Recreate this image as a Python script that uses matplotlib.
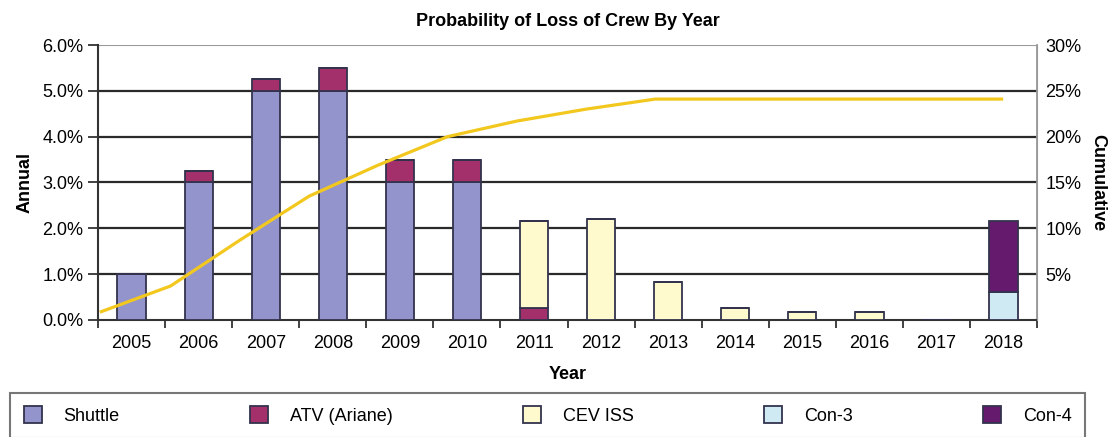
import numpy as np
import matplotlib
matplotlib.use("Agg")
import matplotlib.pyplot as plt
from matplotlib.ticker import FuncFormatter

plt.rcParams['font.family'] = ['Liberation Sans', 'DejaVu Sans']

years = ['2005', '2006', '2007', '2008', '2009', '2010', '2011',
         '2012', '2013', '2014', '2015', '2016', '2017', '2018']
# annual probability, percent
shuttle = [1.0, 3.0, 5.0, 5.0, 3.0, 3.0, 0, 0, 0, 0, 0, 0, 0, 0]
atv = [0, 0.25, 0.25, 0.5, 0.5, 0.5, 0.25, 0, 0, 0, 0, 0, 0, 0]
cev_iss = [0, 0, 0, 0, 0, 0, 1.9, 2.2, 0.82, 0.25, 0.17, 0.17, 0, 0]
con3 = [0, 0, 0, 0, 0, 0, 0, 0, 0, 0, 0, 0, 0, 0.6]
con4 = [0, 0, 0, 0, 0, 0, 0, 0, 0, 0, 0, 0, 0, 1.55]
# cumulative probability, percent
cumulative = [0.9, 3.7, 8.7, 13.5, 16.9, 20.0, 21.7, 23.0, 24.1,
              24.1, 24.1, 24.1, 24.1, 24.1]

series = [('Shuttle', shuttle, '#9494cc'),
          ('ATV (Ariane)', atv, '#a3306a'),
          ('CEV ISS', cev_iss, '#fffacd'),
          ('Con-3', con3, '#cfeaf2'),
          ('Con-4', con4, '#661a6e')]

fig = plt.figure(figsize=(11.2, 4.37), dpi=100)
ax = fig.add_axes([0.0875, 0.268, 0.8385, 0.629])

x = np.arange(len(years))
bottom = np.zeros(len(years))
for name, vals, col in series:
    vals = np.array(vals)
    ax.bar(x, vals, 0.42, bottom=bottom, color=col, edgecolor='#33334d',
           linewidth=1.3, label=name, zorder=3)
    bottom += vals

ax.set_xlim(-0.5, len(years) - 0.5)
ax.set_ylim(0, 6)
ax.set_yticks(np.arange(0, 7, 1))
ax.yaxis.set_major_formatter(FuncFormatter(lambda v, p: '%.1f%%' % v))
ax.set_xticks(x)
ax.set_xticklabels(years)
ax.set_xticks(np.arange(-0.5, len(years)), minor=True)
ax.tick_params(axis='x', which='major', length=0, labelsize=13, pad=11)
ax.tick_params(axis='x', which='minor', length=6, width=1.3, color='#333333', direction='out')
ax.tick_params(axis='y', length=7, width=1.3, color='#333333', labelsize=13)
for v in range(1, 6):
    ax.axhline(v, color='#2a2a2a', linewidth=1.6, zorder=1)
ax.axhline(6, color='#999999', linewidth=1.5, zorder=1)
ax.spines['top'].set_visible(False)
ax.spines['left'].set_color('#333333')
ax.spines['left'].set_linewidth(1.5)
ax.spines['bottom'].set_color('#333333')
ax.spines['bottom'].set_linewidth(1.5)
ax.spines['right'].set_color('#999999')
ax.spines['right'].set_linewidth(1.3)

ax.set_ylabel('Annual', fontsize=13, fontweight='bold', labelpad=6)
ax.set_xlabel('Year', fontsize=13, fontweight='bold', labelpad=10)
ax.set_title('Probability of Loss of Crew By Year', fontsize=13,
             fontweight='bold', pad=14)

ax2 = ax.twinx()
lx = np.linspace(-0.45, 12.97, len(cumulative))
ax2.plot(lx, cumulative, color='#f2c81e', linewidth=2.3, zorder=4)
ax2.set_ylim(0, 30)
ax2.set_yticks([5, 10, 15, 20, 25, 30])
ax2.yaxis.set_major_formatter(FuncFormatter(lambda v, p: '%d%%' % v))
ax2.tick_params(axis='y', length=0, labelsize=13, pad=6)
for s in ['top', 'left', 'bottom']:
    ax2.spines[s].set_visible(False)
ax2.spines['right'].set_color('#999999')
ax2.set_ylabel('Cumulative', fontsize=13, fontweight='bold', rotation=270,
               labelpad=18)

handles, labels = ax.get_legend_handles_labels()
leg = fig.legend(handles, labels, loc='upper left', ncol=5, mode='expand',
                 bbox_to_anchor=(0.009, 0.101, 0.96, 0.0), fontsize=13,
                 frameon=True, fancybox=False, handlelength=1.0,
                 handleheight=1.0, borderaxespad=0.0, borderpad=0.75,
                 handletextpad=1.2)
leg.get_frame().set_edgecolor('#555555')
leg.get_frame().set_linewidth(1.5)

fig.savefig('out.png', dpi=100)
